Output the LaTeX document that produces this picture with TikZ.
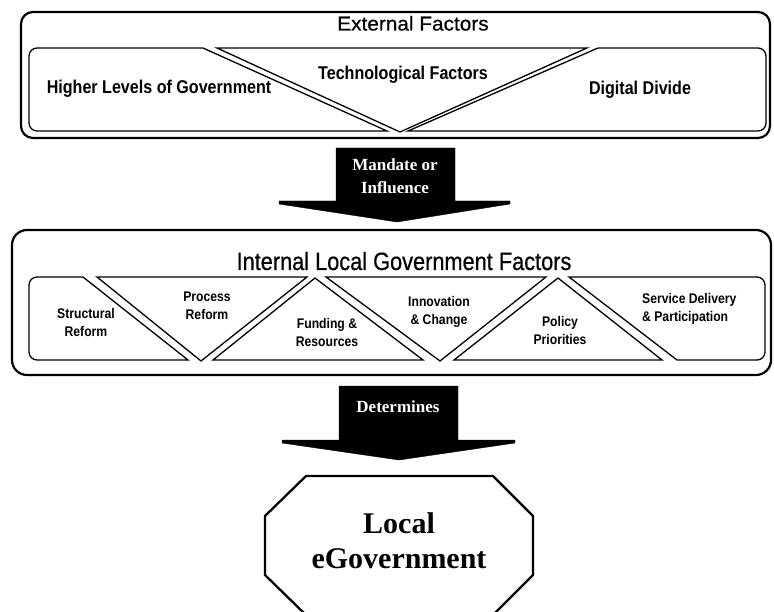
\documentclass[tikz,border=0pt]{standalone}
\usepackage{fontspec}
\setmainfont{Liberation Serif}
\newfontfamily\nsans[FakeStretch=0.87]{Liberation Sans}
\newfontfamily\tsans[FakeBold=0.5,FakeStretch=1.04]{Liberation Sans}
\newfontfamily\tnsans[FakeStretch=0.87,FakeBold=0.5]{Liberation Sans}
\begin{document}
\begin{tikzpicture}[x=1pt,y=-1pt,
  outerbox/.style={draw=black,line width=2.2pt,rounded corners=12pt,fill=white},
  piece/.style={draw=black,line width=1.3pt,line join=miter,fill=white},
  toplabel/.style={font=\nsans\bfseries\fontsize{18.5}{22}\selectfont,inner sep=0pt,anchor=base},
  midlabel/.style={font=\nsans\bfseries\fontsize{14}{18}\selectfont,inner sep=0pt,align=center,anchor=north},
  titlelabel/.style={inner sep=0pt,anchor=base},
  blockarrow/.style={fill=black,draw=black,line width=0.4pt,line join=miter},
  arrowtext/.style={font=\bfseries\fontsize{17}{23}\selectfont,text=white,inner sep=0pt,align=center,anchor=north},
  octo/.style={draw=black,line width=2.3pt,fill=white,line join=miter}]
\useasboundingbox (0,0) rectangle (774,612);
\clip (0,0) rectangle (774,612);

% ---------- External factors ----------
\draw[outerbox] (21,12) rectangle (770,138);
\node[titlelabel,font=\tsans\fontsize{20}{24}\selectfont] (ext) at (413,30.5) {External Factors};

\draw[piece] (203,48) -- (37,48) .. controls (32.6,48) and (29,51.6) .. (29,56)
  -- (29,123) .. controls (29,127.4) and (32.6,131) .. (37,131) -- (387,131) -- cycle;
\draw[piece] (217,48) -- (587,48) -- (400,132) -- cycle;
\draw[piece] (598,48) -- (758,48) .. controls (762.4,48) and (766,51.6) .. (766,56)
  -- (766,123) .. controls (766,127.4) and (762.4,131) .. (758,131) -- (408,131) -- cycle;

\node[toplabel] (higher) at (159,94) {Higher Levels of Government};
\node[toplabel] (tech) at (403,80) {Technological Factors};
\node[toplabel] (digital) at (640,95) {Digital Divide};

% ---------- Arrow 1 ----------
\fill[blockarrow] (336,148) -- (455,148) -- (455,201) -- (510,201) -- (510,204)
  -- (397,222) -- (279,204) -- (279,201) -- (336,201) -- cycle;
\node[arrowtext] (mandate) at (395,158.5) {Mandate or\\Influence};

% ---------- Internal factors ----------
\draw[outerbox,rounded corners=15pt] (12,230) rectangle (771,375);
\node[titlelabel,font=\tnsans\fontsize{25}{30}\selectfont] (intl) at (404,270) {Internal Local Government Factors};

\draw[piece] (83,277) -- (37,277) .. controls (32.6,277) and (29,280.6) .. (29,285)
  -- (29,352) .. controls (29,356.4) and (32.6,360) .. (37,360) -- (188,360) -- cycle;
\draw[piece] (97,277) -- (307,277) -- (201,361) -- cycle;
\draw[piece] (213,360) -- (315,278) -- (423,360) -- cycle;
\draw[piece] (326,277) -- (546,277) -- (440,361) -- cycle;
\draw[piece] (454,360) -- (558,278) -- (662,360) -- cycle;
\draw[piece] (569,277) -- (757,277) .. controls (761.4,277) and (765,280.6) .. (765,285)
  -- (765,352) .. controls (765,356.4) and (761.4,360) .. (757,360) -- (677,360) -- cycle;

\node[midlabel] (struct) at (86,308) {Structural\\Reform};
\node[midlabel] (process) at (207,292) {Process\\Reform};
\node[midlabel] (funding) at (327,318) {Funding \&\\Resources};
\node[midlabel] (innov) at (439,296) {Innovation\\\& Change};
\node[midlabel] (policy) at (560,316) {Policy\\Priorities};
\node[midlabel,align=left,anchor=north west] (service) at (642,293) {Service Delivery\\\& Participation};

% ---------- Arrow 2 ----------
\fill[blockarrow] (339,386) -- (458,386) -- (458,440) -- (515,440) -- (515,443)
  -- (399,460) -- (282,443) -- (282,440) -- (339,440) -- cycle;
\node[arrowtext,anchor=base] (determines) at (398,412) {Determines};

% ---------- Local eGovernment ----------
\draw[octo] (306,476) -- (493,476) -- (533,516) -- (533,575) -- (493,615)
  -- (306,615) -- (265,575) -- (265,516) -- cycle;
\node[inner sep=0pt,align=center,anchor=north,font=\bfseries\fontsize{30}{35}\selectfont] (local) at (399,512) {Local\\eGovernment};
\end{tikzpicture}
\end{document}
